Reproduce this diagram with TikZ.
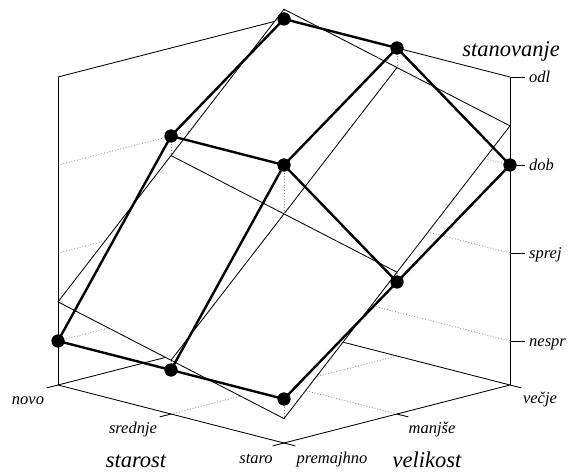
\documentclass[tikz,border=0pt]{standalone}
\usepackage{fontspec}
\setmainfont{Liberation Serif}
\begin{document}
\begin{tikzpicture}[x=1pt,y=1pt]
\useasboundingbox (0,0) rectangle (571,472);
\tikzset{
  thinln/.style={line width=0.85pt, black},
  thickln/.style={line width=2.4pt, line join=round, black},
  gridln/.style={line width=0.8pt, gray, dotted},
  dot/.style={circle, fill=black, inner sep=0pt, minimum size=13pt},
  lab/.style={font=\fontsize{16.5}{18}\selectfont\itshape, inner sep=0pt},
  ttl/.style={font=\fontsize{22.5}{24}\selectfont\itshape, inner sep=0pt},
}
\begin{scope}[shift={(58pt,87pt)}, x={(226pt,-58pt)}, y={(226pt,58pt)}, z={(0pt,88pt)}]
  % box corners
  \coordinate (f00) at (0,0,0);
  \coordinate (f20) at (1,0,0);
  \coordinate (f22) at (1,1,0);
  \coordinate (f02) at (0,1,0);
  \coordinate (t00) at (0,0,3.5);
  \coordinate (t02) at (0,1,3.5);
  \coordinate (t22) at (1,1,3.5);
  % floor grid
  \coordinate (f10) at (0.5,0,0);
  \coordinate (f12) at (0.5,1,0);
  \coordinate (f01) at (0,0.5,0);
  \coordinate (f21) at (1,0.5,0);
  % wall levels
  \foreach \k/\z in {1/0.5,2/1.5,3/2.5}{
    \coordinate (wl\k a) at (0,0,\z);
    \coordinate (wl\k b) at (0,1,\z);
    \coordinate (wr\k b) at (1,1,\z);
  }
  \coordinate (wr4b) at (1,1,3.5);
  % wall dotted level lines
  \foreach \k in {1,2,3}{
    \draw[gridln] (wl\k a) -- (wl\k b);
    \draw[gridln] (wl\k b) -- (wr\k b);
  }
  % floor dotted grid
  \draw[gridln] (f10) -- (f12);
  \draw[gridln] (f01) -- (f21);
  % back floor edges and top edges
  \draw[thinln] (f00) -- (f02) -- (f22);
  \draw[thinln] (t00) -- (t02) -- (t22);
  % fitted plane
  \coordinate (p00) at (0,0,0.9444);
  \coordinate (p10) at (0.5,0,0.6111);
  \coordinate (p20) at (1,0,0.2778);
  \coordinate (p01) at (0,0.5,2.2778);
  \coordinate (p11) at (0.5,0.5,1.9444);
  \coordinate (p21) at (1,0.5,1.6111);
  \coordinate (p02) at (0,1,3.6111);
  \coordinate (p12) at (0.5,1,3.2778);
  \coordinate (p22) at (1,1,2.9444);
  \fill[white] (p00) -- (p20) -- (p22) -- (p02) -- cycle;
  \draw[thinln, line join=round] (p00) -- (p20) -- (p22) -- (p02) -- cycle;
  \draw[thinln] (p10) -- (p12);
  \draw[thinln] (p01) -- (p21);
  % data points
  \node[dot] (d00) at (0,0,0.5) {};
  \node[dot] (d10) at (0.5,0,0.5) {};
  \node[dot] (d20) at (1,0,0.5) {};
  \node[dot] (d01) at (0,0.5,2.5) {};
  \node[dot] (d11) at (0.5,0.5,2.5) {};
  \node[dot] (d21) at (1,0.5,1.5) {};
  \node[dot] (d02) at (0,1,3.5) {};
  \node[dot] (d12) at (0.5,1,3.5) {};
  \node[dot] (d22) at (1,1,2.5) {};
  % residuals
  \foreach \n in {00,10,20,01,11,21,02,12,22}{
    \draw[gridln] (d\n.center) -- (p\n);
  }
  % axes
  \draw[thinln] (f00) -- (t00);
  \draw[thinln] (f22) -- (t22);
  \draw[thinln] (f00) -- (f20) -- (f22);
  % ticks on starost axis (v = 0)
  \coordinate (k0) at (0,-0.05,0);
  \coordinate (k1) at (0.5,-0.05,0);
  \coordinate (k2) at (1,-0.05,0);
  \draw[thinln] (k0) -- (f00);
  \draw[thinln] (k1) -- (f10);
  \draw[thinln] (k2) -- (f20);
  % ticks on velikost axis (s = 1)
  \coordinate (m0) at (1.05,0,0);
  \coordinate (m1) at (1.05,0.5,0);
  \coordinate (m2) at (1.05,1,0);
  \draw[thinln] (f20) -- (m0);
  \draw[thinln] (f21) -- (m1);
  \draw[thinln] (f22) -- (m2);
  % ticks on the vertical axis
  \foreach \k in {1,2,3,4}{
    \draw[thinln] (wr\k b) -- ++(15pt,0pt) coordinate (te\k);
  }
  % data surface
  \draw[thickln] (d00.center) -- (d10.center) -- (d20.center);
  \draw[thickln] (d01.center) -- (d11.center) -- (d21.center);
  \draw[thickln] (d02.center) -- (d12.center) -- (d22.center);
  \draw[thickln] (d00.center) -- (d01.center) -- (d02.center);
  \draw[thickln] (d10.center) -- (d11.center) -- (d12.center);
  \draw[thickln] (d20.center) -- (d21.center) -- (d22.center);
  \foreach \n in {00,10,20,01,11,21,02,12,22}{
    \fill (d\n) circle (6.5pt);
  }
  % level labels
  \node[lab, anchor=base west] at ([shift={(4pt,-6pt)}]te4) {odl};
  \node[lab, anchor=base west] at ([shift={(4pt,-6pt)}]te3) {dob};
  \node[lab, anchor=base west] at ([shift={(4pt,-6pt)}]te2) {sprej};
  \node[lab, anchor=base west] at ([shift={(4pt,-6pt)}]te1) {nespr};
\end{scope}
% axis labels
\node[ttl, anchor=base] (tst) at (511,415) {stanovanje};
\node[lab, anchor=base] (lnovo) at (28,68) {novo};
\node[lab, anchor=base] (lsred) at (133,39) {srednje};
\node[lab, anchor=base] (lstaro) at (256,9) {staro};
\node[lab, anchor=base] (lprem) at (332,9) {premajhno};
\node[lab, anchor=base] (lmanj) at (432,38) {manjše};
\node[lab, anchor=base] (lvec) at (540,69) {večje};
\node[ttl, anchor=base] (tsta) at (136,5) {starost};
\node[ttl, anchor=base] (tvel) at (427,5) {velikost};
\end{tikzpicture}
\end{document}
